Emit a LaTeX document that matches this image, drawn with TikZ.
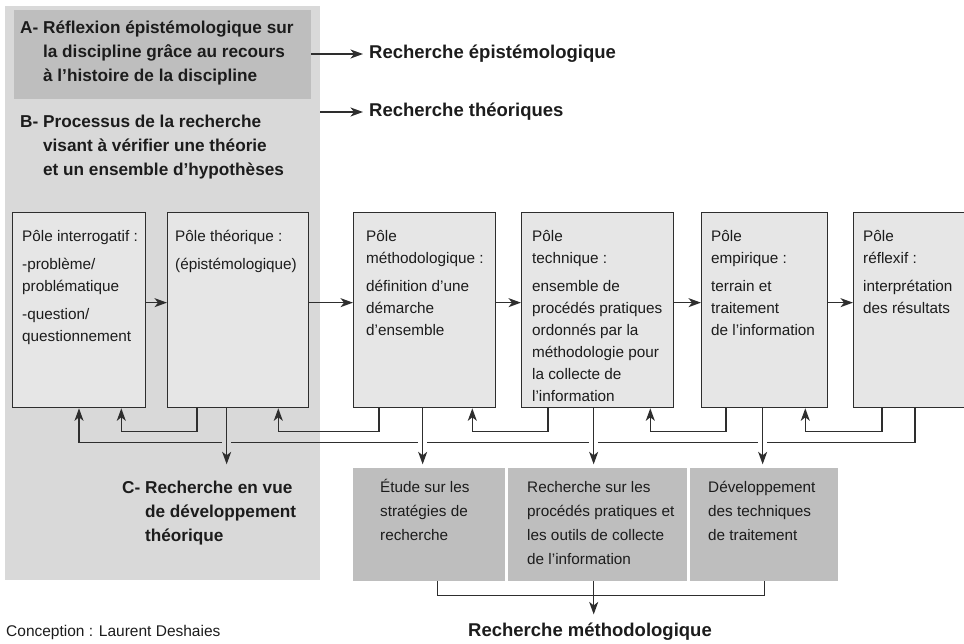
\documentclass[tikz,border=0pt]{standalone}
\usepackage{fontspec}
\setmainfont{Liberation Sans}
\usepackage{xcolor}
\usepackage{tikz}
\usetikzlibrary{positioning,calc,arrows.meta}
\definecolor{panelgray}{HTML}{D9D9D9}
\definecolor{boxgray}{HTML}{BEBEBE}
\definecolor{polefill}{HTML}{E6E6E6}
\definecolor{linegray}{HTML}{2E2E2E}
\definecolor{inkgray}{HTML}{1C1C1C}
\newcommand{\headfont}{\bfseries\fontsize{17.2}{23.8}\selectfont}
\newcommand{\resfont}{\bfseries\fontsize{18.5}{22}\selectfont}
\newcommand{\polefont}{\fontsize{15.3}{22}\selectfont}
\newcommand{\studyfont}{\fontsize{15.3}{24}\selectfont}
\tikzset{
  % --- grey zones ---
  panel/.style={fill=panelgray, anchor=north west, inner sep=0pt},
  darkbox/.style={fill=boxgray, anchor=north west, inner sep=0pt},
  % --- the six poles ---
  polebox/.style={draw=linegray, line width=1.3pt, fill=polefill,
                  anchor=north west, inner sep=0pt, minimum height=195pt},
  poletext/.style={anchor=north west, inner sep=0pt, align=left,
                   text=inkgray, font=\polefont},
  studytext/.style={poletext, font=\studyfont},
  headtext/.style={anchor=north west, inner sep=0pt, align=left,
                   text=inkgray, font=\headfont},
  restext/.style={headtext, font=\resfont},
  % --- connectors ---
  flow/.style={line width=1.4pt, draw=linegray,
               -{Stealth[length=12.5pt,width=9pt,inset=3.5pt]}},
  link/.style={line width=1.4pt, draw=linegray},
  gap/.style={preaction={draw=#1, line width=9pt, shorten <=2pt, -}},
}
\begin{document}
\begin{tikzpicture}[x=1pt,y=-1pt]
  \useasboundingbox (0,0) rectangle (964,643);

  % zones A and B
  \node[panel, minimum width=315pt, minimum height=574pt] (panel) at (5,6) {};
  \node[darkbox, minimum width=297pt, minimum height=89pt] (boxA) at (14,10) {};
  \node[headtext] (txtA) at (20,21)
    {A- Réflexion épistémologique sur\\\hphantom{A- }la discipline grâce au recours\\\hphantom{A- }à l'histoire de la discipline};
  \node[headtext] (txtB) at (20,115)
    {B- Processus de la recherche\\\hphantom{B- }visant à vérifier une théorie\\\hphantom{B- }et un ensemble d'hypothèses};
  \node[restext, anchor=west] (txtEpi)  at (369,54)  {Recherche épistémologique};
  \node[restext, anchor=west] (txtTheo) at (369,112) {Recherche théoriques};
  \draw[flow] (boxA.east |- txtEpi) -- ([xshift=-6pt]txtEpi.west);
  \draw[flow] (panel.east |- txtTheo) -- ([xshift=-6pt]txtTheo.west);

  % poles, left to right
  \node[polebox, minimum width=133pt] (interro) at (12,212)  {};
  \node[polebox, minimum width=141pt] (theo)    at (167,212) {};
  \node[polebox, minimum width=142pt] (metho)   at (353,212) {};
  \node[polebox, minimum width=152pt] (techn)   at (521,212) {};
  \node[polebox, minimum width=126pt] (empir)   at (701,212) {};
  \node[polebox, minimum width=130pt] (reflex)  at (853,212) {};

  \node[poletext] at (22,230)
    {Pôle interrogatif :\\[6pt]-problème/\\problématique\\[6pt]-question/\\questionnement};
  \node[poletext] at (175,230) {Pôle théorique :\\[6pt](épistémologique)};
  \node[poletext] at (366,230)
    {Pôle\\méthodologique :\\[6pt]définition d'une\\démarche\\d'ensemble};
  \node[poletext] at (532,230)
    {Pôle\\technique :\\[6pt]ensemble de\\procédés pratiques\\ordonnés par la\\méthodologie pour\\la collecte de\\l'information};
  \node[poletext] at (711,230)
    {Pôle\\empirique :\\[6pt]terrain et\\traitement\\de l'information};
  \node[poletext] at (863,230) {Pôle\\réflexif :\\[6pt]interprétation\\des résultats};

  % forward arrows
  \foreach \a/\b in {interro/theo, theo/metho, metho/techn, techn/empir, empir/reflex}
    \draw[flow] ([yshift=7.5pt]\a.east) -- ([yshift=7.5pt]\b.west);

  % feedback to the previous pole
  \foreach \from/\to/\dx/\dy in {theo/interro/30/25, metho/theo/26/31,
      techn/metho/27/24, empir/techn/25/24, reflex/empir/29/23}
    \draw[flow] ([xshift=\dx pt]\from.south west) -- ++(0,23)
          -| ([xshift=-\dy pt]\to.south east);
  % long loop back to the first pole
  \draw[flow] ([xshift=62pt]reflex.south west) -- ++(0,34)
        -| ([xshift=67pt]interro.south west);

  % C and the studies below
  \node[headtext] (txtC) at (122,481)
    {C- Recherche en vue\\\hphantom{C- }de développement\\\hphantom{C- }théorique};
  \node[darkbox, minimum width=152pt, minimum height=113pt] (etude)   at (353,468) {};
  \node[darkbox, minimum width=179pt, minimum height=113pt] (procede) at (508,468) {};
  \node[darkbox, minimum width=148pt, minimum height=113pt] (develop) at (690,468) {};
  \node[studytext] at (380,479) {Étude sur les\\stratégies de\\recherche};
  \node[studytext] at (527,481)
    {Recherche sur les\\procédés pratiques et\\les outils de collecte\\de l'information};
  \node[studytext] at (708,481) {Développement\\des techniques\\de traitement};

  \draw[flow, gap=panelgray] ([xshift=-11.5pt]theo.south) -- ++(0,56);
  \foreach \n/\dx in {metho/-2, techn/-4, empir/-2}
    \draw[flow, gap=white] ([xshift=\dx pt]\n.south) -- ++(0,56);

  % methodological research
  \node[restext, anchor=center] (txtM) at (590,632) {Recherche méthodologique};
  \draw[link] ([xshift=8pt]etude.south) -- ++(0,14) -| (develop.south);
  \draw[flow] ([xshift=-4pt]procede.south) -- ++(0,33);

  \node[poletext, anchor=west, font=\fontsize{15.5}{18}\selectfont] (credit) at (6,632)
    {Conception : Laurent Deshaies};
\end{tikzpicture}
\end{document}
